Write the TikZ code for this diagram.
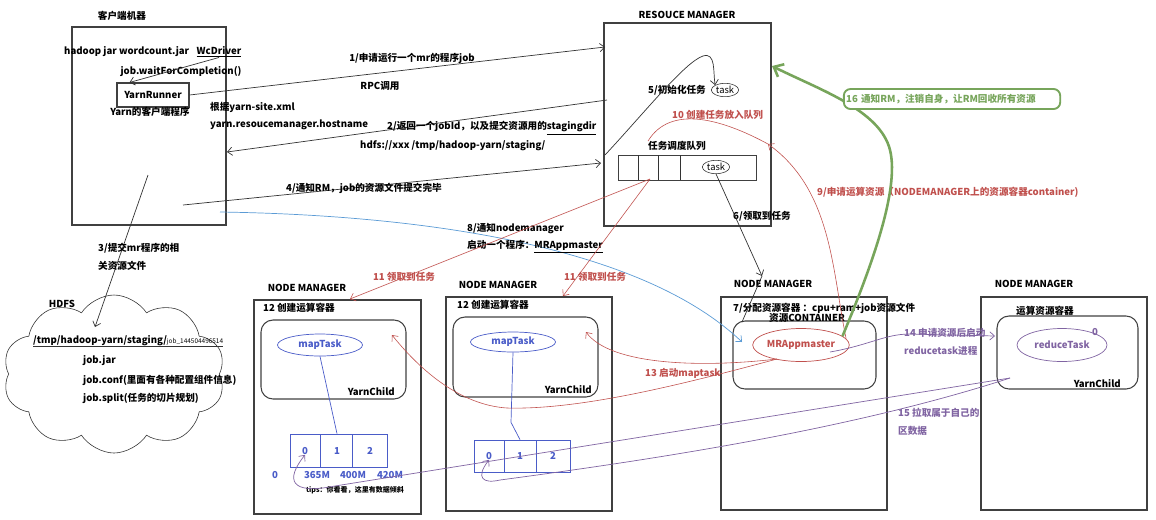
\documentclass[tikz,border=0pt]{standalone}
\usepackage{fontspec}
\setmainfont{Noto Sans CJK SC}
\usepackage{tikz}
\usetikzlibrary{arrows.meta,positioning,fit,shapes.geometric,shapes.symbols}
\definecolor{hred}{HTML}{C0504D}
\definecolor{hgreen}{HTML}{77A55B}
\definecolor{hblue}{HTML}{4A5CC8}
\definecolor{hpurple}{HTML}{8064A2}
\definecolor{hsky}{HTML}{5B9BD5}
\tikzset{
  lbl/.style = {inner sep=0pt, font=\bfseries\fontsize{8.2}{10}\selectfont},
  redlbl/.style = {lbl, text=hred},
  purplelbl/.style = {lbl, text=hpurple},
  bluelbl/.style = {lbl, text=hblue},
  hbox/.style = {rectangle, draw=black!75, line width=0.9pt, inner sep=0pt},
  ctbox/.style = {hbox, rounded corners=0.36cm},
  splitbox/.style = {rectangle, draw=hblue, line width=0.6pt, inner sep=0pt},
  taskell/.style = {ellipse, draw=black!80, line width=0.5pt, inner sep=0pt,
                    minimum width=0.82cm, minimum height=0.4cm,
                    font=\fontsize{8}{9}\selectfont},
  taskoval/.style = {ellipse, line width=0.6pt, inner sep=0pt,
                     minimum width=2.55cm, minimum height=0.66cm,
                     font=\bfseries\fontsize{8.2}{10}\selectfont},
  hline/.style = {draw=black!80, line width=0.6pt},
  harrow/.style = {hline, -{Straight Barb[length=4pt,width=7pt]}},
  redarrow/.style = {draw=hred, line width=0.5pt, -{Straight Barb[length=4pt,width=7pt]}},
  purplearrow/.style = {draw=hpurple, line width=0.6pt, -{Straight Barb[length=4pt,width=7pt]}},
}

\begin{document}
\begin{tikzpicture}[x=0.03cm, y=-0.03cm, font=\bfseries\fontsize{8.2}{10}\selectfont]
  \useasboundingbox (0,0) rectangle (1156,519);

  % === CLIENT MACHINE ===
  \node[lbl] (clientlbl) at (122,16) {客户端机器};
  \node[hbox, fit={(72,27) (226,225)}] (client) {};
  \node[lbl, anchor=west] (cmd) at (64,52) {hadoop jar wordcount.jar};
  \node[lbl] (wcdriver) at (219,52) {\underline{WcDriver}};
  \node[lbl] (waitjob) at (181,72) {job.waitForCompletion()};
  \node[hbox, minimum width=2.16cm, minimum height=0.72cm] (yarn) at (153,95) {YarnRunner};
  \node[lbl] (yarnclient) at (150,112) {Yarn的客户端程序};
  \node[lbl, anchor=west] (yarnsite) at (210,107) {根据yarn-site.xml};
  \node[lbl, anchor=west] (rmhost) at (210,125) {yarn.resoucemanager.hostname};
  \draw[harrow] (wcdriver.south) -- ([xshift=0.39cm]yarn.north west);

  % free ends of the connectors
  \coordinate (rmin1) at (605,47);
  \coordinate (rmout2) at (607,100);
  \coordinate (clientin2) at (227,152);
  \coordinate (clientout3) at (148,175);
  \coordinate (hdfsin3) at (95,327);
  \coordinate (clientout4) at (183,205);
  \coordinate (rmin4) at (601,163);
  \coordinate (rmout5) at (605,155);
  \coordinate (nm3top) at (762,276);
  \coordinate (nm3ctin) at (742,322);
  \coordinate (clientout8) at (220,212);
  \coordinate (amin8) at (742,342);
  \coordinate (rmin9) at (768,144);
  \coordinate (queueout11) at (650,179);
  \coordinate (nm1in11) at (350,299);
  \coordinate (nm2in11) at (563,296);
  \coordinate (appout13) at (777,359);
  \coordinate (nm2in13) at (586,332);
  \coordinate (nm1in13) at (392,335);
  \coordinate (appout14) at (830,352);
  \coordinate (nm4in14) at (995,336);
  \coordinate (nm4in15) at (1010,378);
  \coordinate (rmin16) at (772,66);

  % === RESOURCE MANAGER ===
  \node[lbl] (rmlbl) at (687,15) {RESOUCE MANAGER};
  \node[hbox, fit={(604,23) (771,226)}] (rm) {};
  \node[lbl, anchor=west] (initlbl) at (648,90) {5/初始化任务};
  \node[taskell] (task1) at (725,90) {task};
  \node[redlbl, anchor=west] (putlbl) at (672,115) {10 创建任务放入队列};
  \node[lbl] (queuelbl) at (677,146) {任务调度队列};
  \node[hbox, line width=0.6pt, fit={(618,155) (756,180)}] (queue) {};
  \foreach \x in {638,658,680}
    \draw[hline] (\x,155) -- (\x,180);
  \node[taskell] (task2) at (716,167) {task};
  \node[lbl] (fetchlbl) at (762,216) {6/领取到任务};

  % Client <-> RM
  \draw[harrow] (yarn.east) -- (rmin1);
  \node[lbl] (step1) at (412,58) {1/申请运行一个mr的程序job};
  \node[lbl] (rpc) at (380,86) {RPC调用};
  \draw[harrow] (rmout2) -- (clientin2);
  \node[lbl, anchor=west] (step2) at (387,128) {2/返回一个jobId，以及提交资源用的\underline{stagingdir}};
  \node[lbl, anchor=west] (stagedir) at (360,146) {hdfs://xxx /tmp/hadoop-yarn/staging/};
  \draw[harrow] (clientout4) -- (rmin4);
  \node[lbl] (step4) at (364,188) {4/通知RM，job的资源文件提交完毕};
  \draw[harrow] (rmout5) .. controls (645,112) and (685,62) .. (703,56)
                .. controls (716,52) and (713,72) .. (task1.north west);

  % === HDFS ===
  \draw[harrow] (clientout3) -- (hdfsin3);
  \node[lbl, anchor=west] (step3a) at (98,248) {3/提交mr程序的相};
  \node[lbl, anchor=west] (step3b) at (98,266) {关资源文件};
  \node[lbl] (hdfslbl) at (62,304) {HDFS};
  \node[cloud, cloud puffs=10, cloud puff arc=115, cloud ignores aspect, draw=black!80,
        line width=0.5pt, minimum width=6.66cm, minimum height=4.74cm] (hdfs) at (114,374) {};
  \node[lbl, anchor=west] (stagepath) at (33,341)
    {/tmp/hadoop-yarn/staging/{\mdseries\fontsize{5.5}{6}\selectfont job\_144504496514}};
  \draw[hline] (stagepath.south west) -- (stagepath.south east);
  \node[lbl, anchor=west] (jobjar) at (83,361) {job.jar};
  \node[lbl, anchor=west] (jobconf) at (83,380) {job.conf(里面有各种配置组件信息)};
  \node[lbl, anchor=west] (jobsplit) at (83,398) {job.split(任务的切片规划)};

  % === NODE MANAGER 1 ===
  \node[lbl] (nm1lbl) at (307,288) {NODE MANAGER};
  \node[hbox, fit={(254,300) (421,514)}] (nm1) {};
  \node[lbl, anchor=west] (nm1make) at (263,308) {12 创建运算容器};
  \node[ctbox, fit={(261,320) (406,399)}] (nm1ct) {};
  \node[taskoval, draw=hblue, text=hblue] (map1) at (320,345) {mapTask};
  \node[lbl, anchor=east] (nm1child) at (395,392) {YarnChild};
  \node[splitbox, fit={(290,434) (387,467)}] (split1) {};
  \foreach \x in {320,352}
    \draw[hblue, line width=0.6pt] (\x,434) -- (\x,467);
  \foreach \x/\v/\n in {305/0/a, 337/1/b, 370/2/c}
    \node[bluelbl] (s1\n) at (\x,451) {\v};
  \foreach \x/\v/\n in {275/0/a, 317/365M/b, 353/400M/c, 390/420M/d}
    \node[bluelbl] (off\n) at (\x,475) {\v};
  \node[inner sep=0pt, font=\bfseries\fontsize{6}{7}\selectfont] (tips) at (355,490)
    {tips：你看看，这里有数据倾斜};
  \draw[hblue, line width=0.6pt] (map1.south) -- (split1.north -| s1b);

  % === NODE MANAGER 2 ===
  \node[lbl] (nm2lbl) at (498,285) {NODE MANAGER};
  \node[hbox, fit={(446,297) (612,511)}] (nm2) {};
  \node[lbl, anchor=west] (nm2make) at (457,305) {12 创建运算容器};
  \node[ctbox, fit={(453,317) (598,397)}] (nm2ct) {};
  \node[taskoval, draw=hblue, text=hblue, minimum height=0.6cm] (map2) at (513,342) {mapTask};
  \node[lbl, anchor=east] (nm2child) at (592,390) {YarnChild};
  \node[splitbox, fit={(474,440) (570,472)}] (split2) {};
  \foreach \x in {504,536}
    \draw[hblue, line width=0.6pt] (\x,440) -- (\x,472);
  \foreach \x/\v/\n in {489/0/a, 520/1/b, 553/2/c}
    \node[bluelbl] (s2\n) at (\x,456) {\v};
  \draw[hblue, line width=0.6pt] (map2.south) -- ++(-2,70) -- (split2.north -| s2b);

  % === NODE MANAGER 3 ===
  \node[lbl] (nm3lbl) at (773,284) {NODE MANAGER};
  \node[hbox, fit={(721,297) (887,510)}] (nm3) {};
  \node[lbl, anchor=west] (allocate) at (733,308) {7/分配资源容器 ：cpu+ram+job资源文件};
  \node[ctbox, fit={(733,321) (876,389)}] (nm3ct) {};
  \node[lbl] (containerlbl) at (807,318) {资源CONTAINER};
  \node[taskoval, draw=hred, text=hred, minimum height=0.99cm] (app) at (801,345) {MRAppmaster};

  % === NODE MANAGER 4 ===
  \node[lbl] (nm4lbl) at (1034,284) {NODE MANAGER};
  \node[hbox, fit={(981,297) (1147,510)}] (nm4) {};
  \node[lbl] (nm4make) at (1045,311) {运算资源容器};
  \node[ctbox, fit={(997,316) (1138,389)}] (nm4ct) {};
  \node[taskoval, draw=hpurple, text=hpurple, minimum width=2.7cm, minimum height=0.99cm] (reduce) at (1062,345) {reduceTask};
  \node[purplelbl] (reducepart) at (1095,332) {0};
  \node[lbl, anchor=east] (nm4child) at (1121,384) {YarnChild};

  % === RM <-> NODE MANAGERS ===
  \draw[harrow] (task2.south) -- (nm3top);
  \draw[hline] (nm3top) -- (nm3ctin);

  \draw[draw=hsky, line width=0.6pt, -{Straight Barb[length=4pt,width=7pt]}]
    (clientout8) .. controls (420,215) and (640,245) .. (amin8);
  \node[lbl, anchor=west] (step8a) at (467,229) {8/通知nodemanager};
  \node[lbl, anchor=west] (step8b) at (467,247) {启动一个程序：\underline{MRAppmaster}};

  \draw[redarrow] (app.8) .. controls (832,270) and (832,190) .. (rmin9);
  \node[redlbl, anchor=west] (step9) at (817,192) {9/申请运算资源（NODEMANAGER上的资源容器container)};
  \draw[draw=hred, line width=0.5pt] (rmin9) .. controls (720,118) and (670,105) .. (queuelbl.north west);

  \draw[redarrow] (queueout11) -- (nm1in11);
  \draw[redarrow] (queueout11) -- (nm2in11);
  \node[redlbl] (step11a) at (404,277) {11 领取到任务};
  \node[redlbl] (step11b) at (595,277) {11 领取到任务};

  \draw[redarrow] (appout13) .. controls (700,368) and (610,365) .. (nm2in13);
  \draw[redarrow] (appout13) .. controls (680,385) and (580,410) .. (507,408)
                  .. controls (460,405) and (420,370) .. (nm1in13);
  \node[redlbl, anchor=west] (step13) at (645,373) {13 启动maptask};

  \draw[purplearrow] (appout14) .. controls (870,345) and (885,334) .. (910,334) -- (nm4in14);
  \node[purplelbl, anchor=west] (step14a) at (904,333) {14 申请资源后启动};
  \node[purplelbl, anchor=west] (step14b) at (904,351) {reducetask进程};

  \draw[purplearrow, {Straight Barb[length=4pt,width=7pt]}-] (s1a.south)
    .. controls (285,480) and (290,495) .. (335,486) -- (nm4in15);
  \draw[purplearrow, {Straight Barb[length=4pt,width=7pt]}-] (s2a.south)
    .. controls (475,478) and (483,484) .. (500,480)
    .. controls (650,460) and (850,430) .. (nm4in15);
  \node[purplelbl, anchor=west] (step15a) at (898,413) {15 拉取属于自己的};
  \node[purplelbl, anchor=west] (step15b) at (898,431) {区数据};

  % Step 16: back to the RM
  \draw[draw=hgreen, line width=2.2pt, -{Straight Barb[length=7pt,width=12pt]}]
    (app.12) .. controls (870,270) and (900,190) .. (890,150)
    .. controls (880,110) and (820,90) .. (rmin16);
  \node[lbl, text=hgreen, draw=hgreen, line width=1.6pt, rounded corners=0.2cm,
        minimum height=0.6cm, text width=6.35cm, inner xsep=2pt, align=left, fill=white]
    (rmnote) at (952,99) {16 通知RM，注销自身，让RM回收所有资源};

\end{tikzpicture}
\end{document}
